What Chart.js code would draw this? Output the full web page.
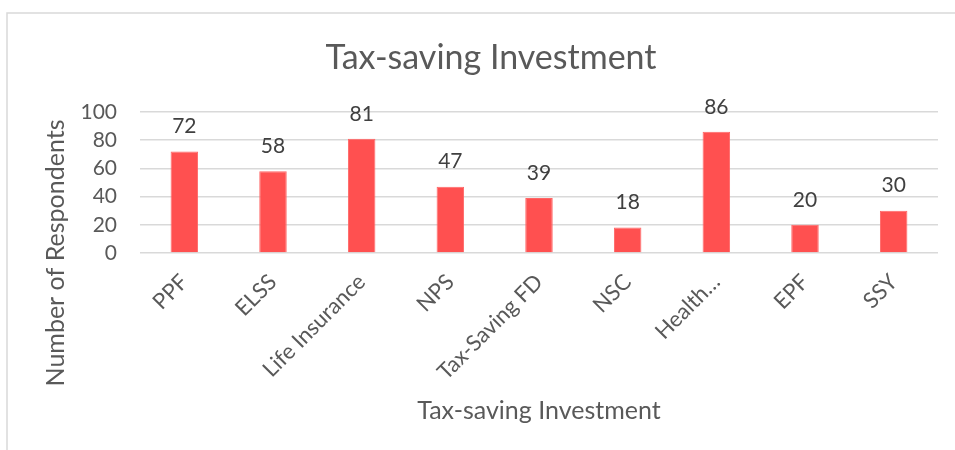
<!DOCTYPE html>
<html>
<head>
<meta charset="utf-8">
<title>Tax-saving Investment</title>
<script src="https://cdn.jsdelivr.net/npm/chart.js@4/dist/chart.umd.min.js"></script>
<style>
  html, body { margin: 0; padding: 0; background: #fff; overflow: hidden; }
  #wrap { position: relative; width: 955px; height: 450px; }
</style>
</head>
<body>
<div id="wrap"><canvas id="bar_chart" width="955" height="450"></canvas></div>
<script>
// chart data
const categories = ["PPF", "ELSS", "Life Insurance", "NPS", "Tax-Saving FD", "NSC", "Health…", "EPF", "SSY"];
const respondents = [72, 58, 81, 47, 39, 18, 86, 20, 30];
const y_ticks = [0, 20, 40, 60, 80, 100];

const chart_title = "Tax-saving Investment";
const x_title = "Tax-saving Investment";
const y_title = "Number of Respondents";

const FONT = "Lato, 'Open Sans', sans-serif";
const TEXT_GREY = "#595959";
const GRID_GREY = "#d9d9d9";

// outer frame of the chart box (only top and left edges show)
const framePlugin = {
  id: "frame",
  beforeDraw(chart) {
    const c = chart.ctx;
    c.save();
    c.strokeStyle = GRID_GREY;
    c.lineWidth = 1.5;
    c.beginPath();
    c.moveTo(7, chart.height);
    c.lineTo(7, 13);
    c.lineTo(chart.width, 13);
    c.stroke();
    c.restore();
  }
};

// value above each bar
const valueLabels = {
  id: "valueLabels",
  afterDatasetsDraw(chart) {
    const c = chart.ctx;
    const meta = chart.getDatasetMeta(0);
    c.save();
    c.font = "21px " + FONT;
    c.fillStyle = "#404040";
    c.textAlign = "center";
    c.textBaseline = "middle";
    meta.data.forEach((bar, i) => {
      c.fillText(String(respondents[i]), bar.x, bar.y - 25);
    });
    c.restore();
  }
};

// chart title and y axis title are placed by hand: the title is centred on
// the whole box, the y title sits lower than the plot centre
const titlesPlugin = {
  id: "titles",
  afterDraw(chart) {
    const c = chart.ctx;
    c.save();
    c.fillStyle = TEXT_GREY;
    c.textAlign = "center";
    c.textBaseline = "middle";
    c.font = "34px " + FONT;
    c.fillText(chart_title, 491, 58);

    c.font = "25px " + FONT;
    c.translate(56, 253);
    c.rotate(-Math.PI / 2);
    c.fillText(y_title, 0, 0);
    c.restore();
  }
};

const ctx = document.getElementById("bar_chart").getContext("2d");

new Chart(ctx, {
  type: "bar",
  data: {
    labels: categories,
    datasets: [
      {
        label: y_title,
        data: respondents,
        backgroundColor: "#FF5050",
        borderColor: "#FF6666",
        borderWidth: 1,
        categoryPercentage: 1,
        barPercentage: 0.31,
      },
    ],
  },
  options: {
    responsive: false,
    animation: false,
    layout: { padding: { left: 0, right: 17, top: 112, bottom: 0 } },
    plugins: {
      legend: { display: false },
      tooltip: { enabled: false },
      title: { display: false },
    },
    scales: {
      x: {
        grid: { display: false },
        border: { display: false },
        ticks: {
          color: TEXT_GREY,
          font: { family: FONT, size: 22 },
          minRotation: 45,
          maxRotation: 45,
          autoSkip: false,
          padding: 8,
        },
        title: {
          display: true,
          text: x_title,
          color: TEXT_GREY,
          font: { family: FONT, size: 25, lineHeight: 1.2 },
          padding: { top: 0, bottom: 24 },
        },
        afterFit(scale) {
          scale.height = 197;
        },
      },
      y: {
        min: 0,
        max: 100,
        afterBuildTicks(scale) {
          scale.ticks = y_ticks.map((v) => ({ value: v }));
        },
        grid: { color: GRID_GREY, lineWidth: 1.5, drawTicks: false },
        border: { display: false },
        ticks: {
          color: TEXT_GREY,
          font: { family: FONT, size: 21 },
          padding: 23,
        },
        afterFit(scale) {
          scale.width = 140;
        },
      },
    },
  },
  plugins: [framePlugin, valueLabels, titlesPlugin],
});
</script>
</body>
</html>
